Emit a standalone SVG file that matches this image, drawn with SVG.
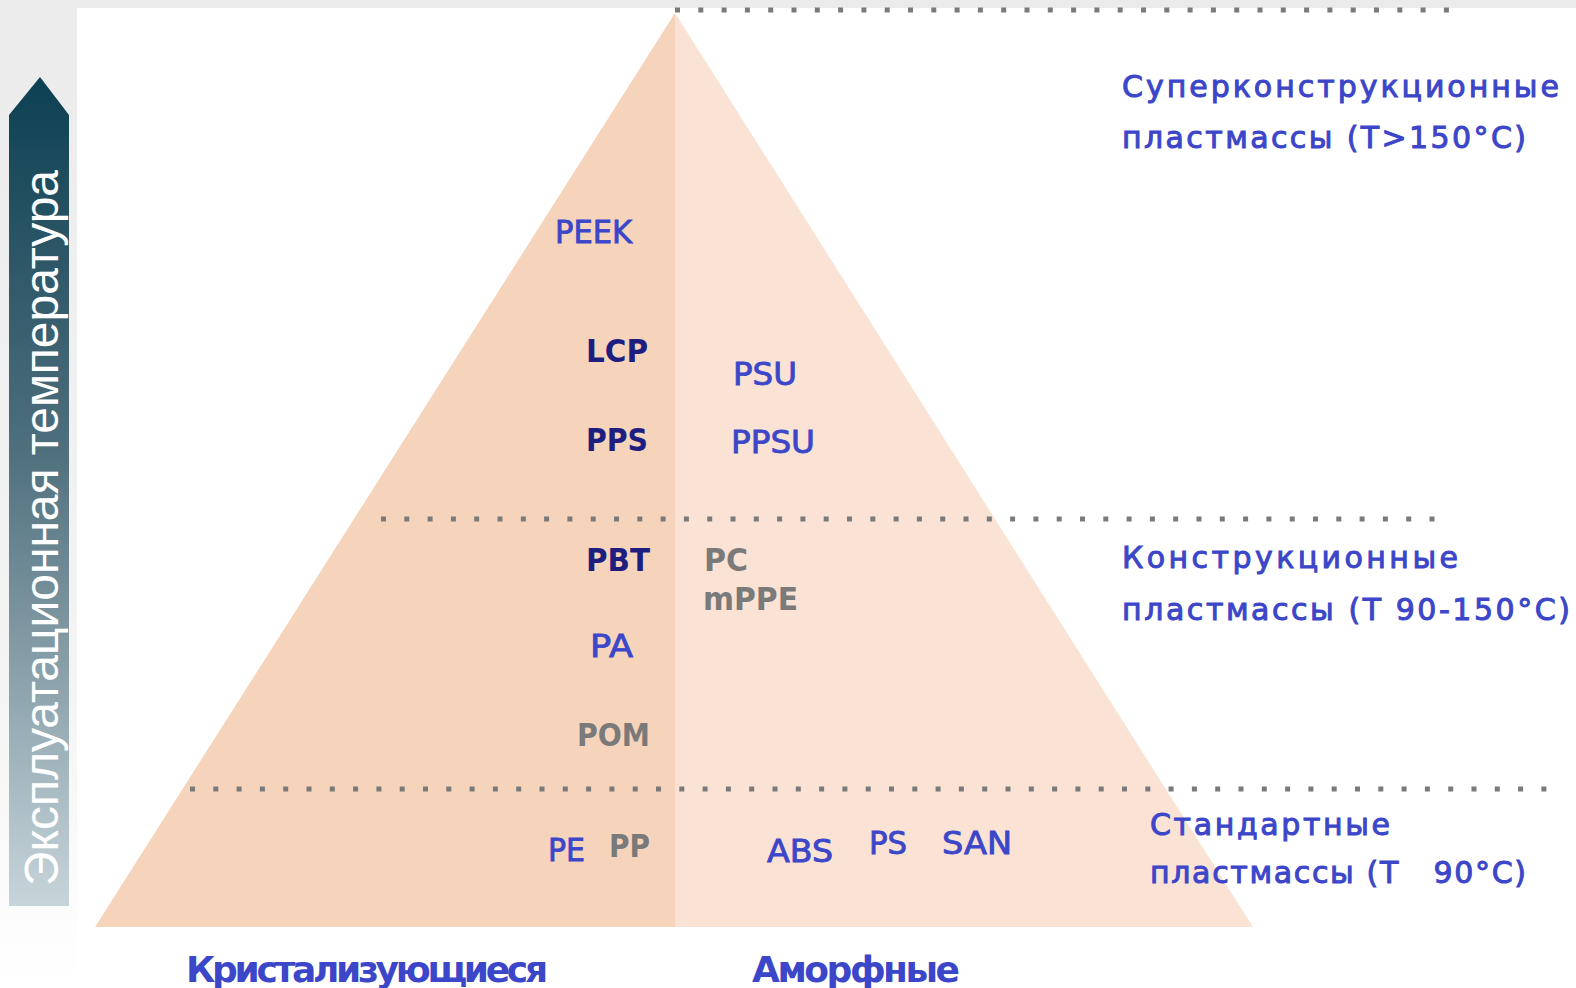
<svg xmlns="http://www.w3.org/2000/svg" width="1576" height="988" viewBox="0 0 1576 988">
  <defs>
    <linearGradient id="arrowGrad" x1="0" y1="77" x2="0" y2="906" gradientUnits="userSpaceOnUse">
      <stop offset="0" stop-color="#0C4052"/>
      <stop offset="0.45" stop-color="#4F6F7D"/>
      <stop offset="1" stop-color="#C7D5DA"/>
    </linearGradient>
    <linearGradient id="sideGrad" x1="0" y1="0" x2="0" y2="988" gradientUnits="userSpaceOnUse">
      <stop offset="0" stop-color="#EBEBEB"/>
      <stop offset="0.7" stop-color="#F4F4F4"/>
      <stop offset="1" stop-color="#FFFFFF"/>
    </linearGradient>
    <style>
      .lbl { font-family: "DejaVu Sans", "Liberation Sans", sans-serif; font-size: 32px; }
      .blue { fill: #3C46C8; stroke: #3C46C8; stroke-width: 0.9; }
      .navy { fill: #1E1E80; font-weight: bold; }
      .gray { fill: #7A7A7A; font-weight: bold; }
      .side { font-family: "DejaVu Sans", "Liberation Sans", sans-serif; font-size: 30px; fill: #3C46C8; stroke: #3C46C8; stroke-width: 1; white-space: pre; }
      .foot { font-family: "DejaVu Sans", "Liberation Sans", sans-serif; font-size: 36px; fill: #3C46C8; font-weight: bold; }
      .dots { stroke: #7A7A7A; stroke-width: 5; stroke-dasharray: 5 18.3; fill: none; }
    </style>
  </defs>

  <!-- background -->
  <rect x="0" y="0" width="1576" height="988" fill="#FFFFFF"/>
  <rect x="0" y="0" width="1576" height="8" fill="#EBEBEB"/>
  <rect x="0" y="0" width="77" height="988" fill="url(#sideGrad)"/>

  <!-- temperature arrow -->
  <g id="temp-arrow">
    <polygon points="40,77 69,115 69,906 9,906 9,115" fill="url(#arrowGrad)"/>
    <text transform="translate(58,886) rotate(-90)" x="0" y="0" textLength="716" lengthAdjust="spacingAndGlyphs" style="font-family:'Liberation Sans',Arial,sans-serif;font-size:48px;fill:#FFFFFF">Эксплуатационная температура</text>
  </g>

  <!-- pyramid -->
  <g id="pyramid">
    <polygon points="675,13 675,927 95,927" fill="#F6D4BC"/>
    <polygon points="675,13 1253,927 675,927" fill="#FAE2D4"/>
  </g>

  <!-- level separators -->
  <g id="connectors">
    <line class="dots" x1="675" y1="10" x2="1466" y2="10"/>
    <line class="dots" x1="381" y1="519" x2="1450" y2="519"/>
    <line class="dots" x1="190" y1="789" x2="1555" y2="789"/>
  </g>

  <!-- polymer labels -->
  <g id="node-PEEK"><text class="lbl blue" x="555" y="243" textLength="77" lengthAdjust="spacingAndGlyphs">PEEK</text></g>
  <g id="node-LCP"><text class="lbl navy" x="586" y="362" textLength="62" lengthAdjust="spacingAndGlyphs">LCP</text></g>
  <g id="node-PSU"><text class="lbl blue" x="733" y="385" textLength="64" lengthAdjust="spacingAndGlyphs">PSU</text></g>
  <g id="node-PPS"><text class="lbl navy" x="586" y="451" textLength="62" lengthAdjust="spacingAndGlyphs">PPS</text></g>
  <g id="node-PPSU"><text class="lbl blue" x="731" y="453" textLength="84" lengthAdjust="spacingAndGlyphs">PPSU</text></g>
  <g id="node-PBT"><text class="lbl navy" x="586" y="571" textLength="64" lengthAdjust="spacingAndGlyphs">PBT</text></g>
  <g id="node-PC"><text class="lbl gray" x="704" y="571" textLength="44" lengthAdjust="spacingAndGlyphs">PC</text></g>
  <g id="node-mPPE"><text class="lbl gray" x="703" y="610" textLength="95" lengthAdjust="spacingAndGlyphs">mPPE</text></g>
  <g id="node-PA"><text class="lbl blue" x="590" y="657" textLength="43" lengthAdjust="spacingAndGlyphs">PA</text></g>
  <g id="node-POM"><text class="lbl gray" x="577" y="746" textLength="73" lengthAdjust="spacingAndGlyphs">POM</text></g>
  <g id="node-PE"><text class="lbl blue" x="548" y="861" textLength="37" lengthAdjust="spacingAndGlyphs">PE</text></g>
  <g id="node-PP"><text class="lbl gray" x="609" y="857" textLength="41" lengthAdjust="spacingAndGlyphs">PP</text></g>
  <g id="node-ABS"><text class="lbl blue" x="767" y="862" textLength="66" lengthAdjust="spacingAndGlyphs">ABS</text></g>
  <g id="node-PS"><text class="lbl blue" x="869" y="854" textLength="38" lengthAdjust="spacingAndGlyphs">PS</text></g>
  <g id="node-SAN"><text class="lbl blue" x="942" y="854" textLength="70" lengthAdjust="spacingAndGlyphs">SAN</text></g>

  <!-- level labels -->
  <g id="level-super">
    <text class="side" x="1122" y="97" textLength="437" lengthAdjust="spacing">Суперконструкционные</text>
    <text class="side" x="1122" y="148" textLength="404" lengthAdjust="spacing">пластмассы (T&gt;150°C)</text>
  </g>
  <g id="level-engineering">
    <text class="side" x="1122" y="568" textLength="336" lengthAdjust="spacing">Конструкционные</text>
    <text class="side" x="1122" y="620" textLength="448" lengthAdjust="spacing">пластмассы (T 90-150°C)</text>
  </g>
  <g id="level-standard">
    <text class="side" x="1150" y="835" textLength="240" lengthAdjust="spacing">Стандартные</text>
    <text class="side" x="1150" y="883" textLength="376" lengthAdjust="spacing">пластмассы (T   90°C)</text>
  </g>

  <!-- column labels -->
  <g id="col-crystalline"><text class="foot" x="186" y="982" textLength="362" lengthAdjust="spacing">Кристализующиеся</text></g>
  <g id="col-amorphous"><text class="foot" x="752" y="982" textLength="208" lengthAdjust="spacing">Аморфные</text></g>
</svg>
